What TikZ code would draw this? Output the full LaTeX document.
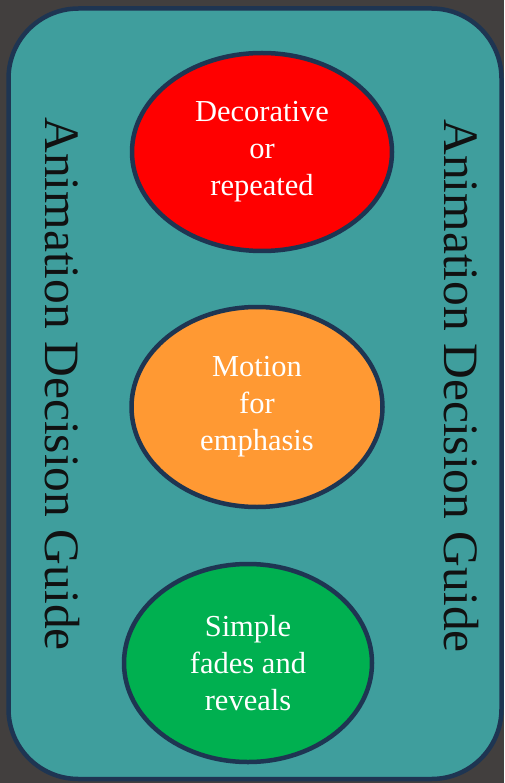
\documentclass[tikz,border=0pt]{standalone}
\usepackage{fontspec}
\setmainfont{Liberation Serif}
\usetikzlibrary{shapes.geometric}
\definecolor{darkbg}{HTML}{423F3E}
\definecolor{tealbox}{HTML}{3F9E9D}
\definecolor{navyline}{HTML}{1E3552}
\definecolor{redfill}{HTML}{FF0000}
\definecolor{orangefill}{HTML}{FF9933}
\definecolor{greenfill}{HTML}{00B050}
\definecolor{sidetext}{HTML}{111111}

\begin{document}
\begin{tikzpicture}[x=1pt,y=-1pt,every node/.style={font=\fontsize{30.5}{37}\selectfont},
  choice/.style={ellipse,draw=navyline,line width=4.5pt,text=white,align=center,inner sep=0pt},
  sidetitle/.style={rotate=-90,font=\fontsize{49.5}{58}\selectfont,text=sidetext,inner sep=0pt}]
\useasboundingbox (0,0) rectangle (504,783);
\fill[darkbg] (0,0) rectangle (504,783);
\draw[fill=tealbox,draw=navyline,line width=4.5pt,rounded corners=70pt] (8.5,8.5) rectangle (501.5,779);
% the three choices
\node[choice,fill=redfill,minimum width=260pt,minimum height=198pt] (deco) at (262,152) {Decorative\\or\\repeated};
\node[choice,fill=orangefill,minimum width=251pt,minimum height=200pt] (motion) at (257,407) {Motion\\for\\emphasis};
\node[choice,fill=greenfill,minimum width=248pt,minimum height=198pt] (fades) at (248,663) {Simple\\fades and\\reveals};
% side titles
\node[sidetitle] (titleL) at (62,384) {Animation Decision Guide};
\node[sidetitle] (titleR) at (461,386) {Animation Decision Guide};
\end{tikzpicture}
\end{document}
